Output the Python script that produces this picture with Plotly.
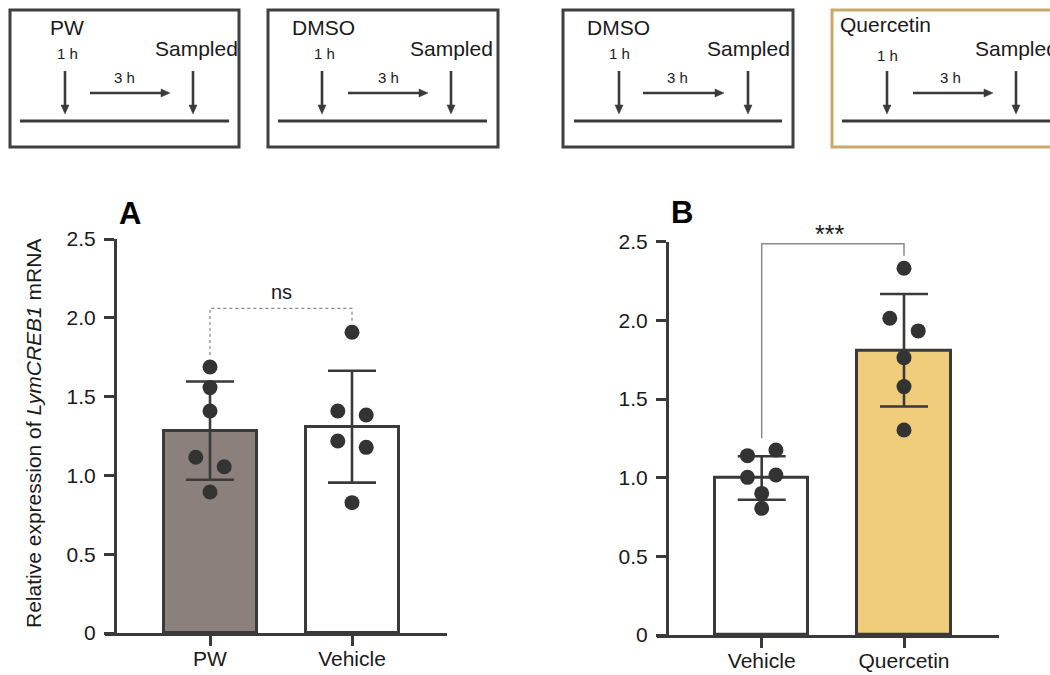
import plotly.graph_objects as go

W, H = 1050, 675
FONT = "Liberation Sans, Arial, sans-serif"
DARK = "#3a3a3a"
TXT = "#1a1a1a"

# ---------------- data ----------------
a_categories = ["PW", "Vehicle"]
a_means = [1.284, 1.309]
a_sd = [0.312, 0.355]
a_pw_points = [1.688, 1.557, 1.409, 1.115, 1.055, 0.895]
a_pw_jitter = [0, 0, 0, -1, 1, 0]
a_veh_points = [1.908, 1.409, 1.383, 1.218, 1.178, 0.827]
a_veh_jitter = [0, -1, 1, -1, 1, 0]
a_sig_label = "ns"
a_bracket_y = [1.764, 2.06, 2.06, 1.98]

b_categories = ["Vehicle", "Quercetin"]
b_means = [0.998, 1.81]
b_sd = [0.138, 0.358]
b_veh_points = [1.14, 1.176, 1.002, 1.017, 0.90, 0.805]
b_veh_jitter = [-1, 1, -1, 1, 0, 0]
b_quer_points = [2.331, 2.013, 1.933, 1.763, 1.579, 1.303]
b_quer_jitter = [0, -1, 1, 0, 0, 0]
b_sig_label = "***"
b_bracket_y = [1.25, 2.487, 2.487, 2.41]

y_ticks = [0, 0.5, 1.0, 1.5, 2.0, 2.5]
y_ticktext = ["0", "0.5", "1.0", "1.5", "2.0", "2.5"]

a_colors = ["#8b807c", "#ffffff"]
b_colors = ["#ffffff", "#f0cd7b"]

JIT = 0.1
BARW = 0.655

fig = go.Figure()


def add_panel(xa, ya, cats, means, sd, colors, pts_list, jit_list, bracket_y, bracket_style):
    fig.add_trace(go.Bar(
        x=list(range(len(cats))), y=means, width=BARW,
        marker=dict(color=colors, line=dict(color=DARK, width=3)),
        error_y=dict(type="data", array=sd, symmetric=True, width=24,
                     thickness=2.6, color=DARK),
        xaxis=xa, yaxis=ya, showlegend=False, hoverinfo="skip"))
    fig.add_trace(go.Scatter(
        x=[0, 0, 1, 1], y=bracket_y, mode="lines",
        line=bracket_style, xaxis=xa, yaxis=ya, showlegend=False,
        hoverinfo="skip", cliponaxis=False))
    for i, (pts, jit) in enumerate(zip(pts_list, jit_list)):
        fig.add_trace(go.Scatter(
            x=[i + j * JIT for j in jit], y=pts, mode="markers",
            marker=dict(color="#333333", size=15),
            xaxis=xa, yaxis=ya, showlegend=False, cliponaxis=False))


add_panel("x", "y", a_categories, a_means, a_sd, a_colors,
          [a_pw_points, a_veh_points], [a_pw_jitter, a_veh_jitter],
          a_bracket_y, dict(color="#888888", width=1.2, dash="dot"))
add_panel("x2", "y2", b_categories, b_means, b_sd, b_colors,
          [b_veh_points, b_quer_points], [b_veh_jitter, b_quer_jitter],
          b_bracket_y, dict(color="#8a8a8a", width=1.5))


def px(x):
    return x / W


def py(y):
    return 1 - y / H


axis_common = dict(showline=True, linewidth=3, linecolor=DARK, ticks="outside",
                   ticklen=10, tickwidth=2.6, tickcolor=DARK, showgrid=False,
                   zeroline=False, automargin=False,
                   tickfont=dict(family=FONT, size=21, color=TXT))

fig.update_layout(
    template="none",
    width=W, height=H, margin=dict(l=0, r=0, t=0, b=0, pad=0, autoexpand=False),
    paper_bgcolor="white", plot_bgcolor="rgba(0,0,0,0)",
    font=dict(family=FONT, color=TXT),
    bargap=0,
    xaxis=dict(domain=[px(105), px(447)], range=[-105 / 142, 1 + 95 / 142],
               tickvals=[0, 1], ticktext=a_categories, anchor="y",
               ticklabelstandoff=-5, **axis_common),
    yaxis=dict(domain=[py(633), py(239)], range=[0, 2.5], anchor="free",
               position=px(115), tickvals=y_ticks, ticktext=y_ticktext,
               ticklabelstandoff=4, **axis_common),
    xaxis2=dict(domain=[px(657), px(999)], range=[-104.7 / 142.3, 1 + 95 / 142.3],
                tickvals=[0, 1], ticktext=b_categories, anchor="y2",
                ticklabelstandoff=-5, **axis_common),
    yaxis2=dict(domain=[py(635), py(241.7)], range=[0, 2.5], anchor="free",
                position=px(667), tickvals=y_ticks, ticktext=y_ticktext,
                ticklabelstandoff=4, **axis_common),
)


def label(x, y, s, size, bold=False, angle=0, color=TXT):
    return dict(x=px(x), y=py(y), xref="paper", yref="paper", text=s,
                showarrow=False, xanchor="center", yanchor="middle",
                textangle=angle, font=dict(size=size, family=FONT, color=color))


annotations = [
    dict(x=0.5, y=2.166, xref="x", yref="y", text=a_sig_label, showarrow=False,
         xanchor="center", yanchor="middle",
         font=dict(size=20, family=FONT, color=TXT)),
    label(829, 234, b_sig_label, 25),
    label(130, 213, "<b>A</b>", 31, color="#000"),
    label(682, 212, "<b>B</b>", 31, color="#000"),
    label(33, 434, "Relative expression of <i>LymCREB1</i> mRNA", 21, angle=-90),
]

shapes = []


def rect(x0, y0, x1, y1, color):
    shapes.append(dict(type="rect", xref="paper", yref="paper",
                       x0=px(x0), x1=px(x1), y0=py(y1), y1=py(y0),
                       line=dict(color=color, width=3), fillcolor="rgba(0,0,0,0)"))


def line(x0, y0, x1, y1, w=2.6):
    shapes.append(dict(type="line", xref="paper", yref="paper",
                       x0=px(x0), x1=px(x1), y0=py(y0), y1=py(y1),
                       line=dict(color=DARK, width=w)))


def tri(points):
    path = "M " + " L ".join(f"{px(a)},{py(b)}" for a, b in points) + " Z"
    shapes.append(dict(type="path", xref="paper", yref="paper", path=path,
                       fillcolor=DARK, line=dict(color=DARK, width=0.5)))


def down_arrow(x, y0, y1):
    line(x, y0, x, y1 - 7)
    tri([(x - 4, y1 - 9), (x + 4, y1 - 9), (x, y1)])


def right_arrow(x0, x1, y):
    line(x0, y, x1 - 7, y)
    tri([(x1 - 9, y - 4), (x1 - 9, y + 4), (x1, y)])


def text(x, y, s, size):
    annotations.append(dict(x=px(x), y=py(y), xref="paper", yref="paper",
                            text=s, showarrow=False, xanchor="left", yanchor="middle",
                            font=dict(size=size, family=FONT, color=TXT)))


# schematic boxes: (box left, box right, border colour, label, label x, label y,
#                   1h x, 1h y, sampled x, sampled y, 3h x, arrow1 x, arrow2 x,
#                   h-arrow x0, x1, timeline x0, x1)
boxes = [
    (10, 239, "#3f3f3f", "PW", 48, 28, 55, 53, 153, 49, 112, 65, 193, 90, 170, 20, 229),
    (268, 498, "#3f3f3f", "DMSO", 290, 28, 312, 53, 408, 48, 376, 322, 451, 348, 428, 278, 487),
    (563, 793, "#3f3f3f", "DMSO", 585, 27, 607, 53, 705, 48, 665, 619, 748, 643, 724, 574, 782),
    (832, 1100, "#c9a96b", "Quercetin", 838, 25, 875, 55, 973, 49, 938, 887, 1016, 913, 993, 842, 1100),
]
for (bx0, bx1, col, lab, lx, ly, hx, hy, sx, sy, tx, a1, a2, h0, h1, t0, t1) in boxes:
    rect(bx0, 10, bx1, 147, col)
    text(lx, ly, lab, 21)
    text(hx, hy, "1 h", 15)
    text(sx, sy, "Sampled", 21)
    text(tx, 77, "3 h", 15)
    down_arrow(a1, 71, 114)
    down_arrow(a2, 71, 114)
    right_arrow(h0, h1, 93)
    line(t0, 121, t1, 121, 3)

fig.update_layout(annotations=annotations, shapes=shapes)
fig.write_html("out.html", config={"displayModeBar": False},
               post_script="document.body.style.margin='0';document.body.style.overflow='hidden';")
